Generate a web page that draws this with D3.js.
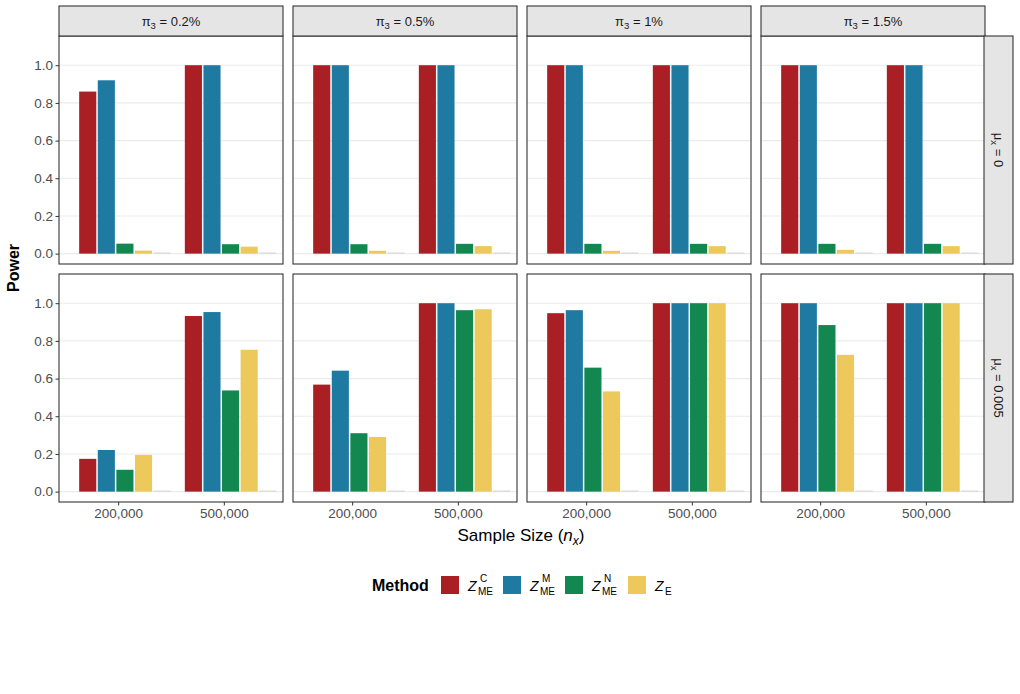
<!DOCTYPE html>
<html>
<head>
<meta charset="utf-8">
<script src="https://cdn.jsdelivr.net/npm/d3@7"></script>
<style>
  body { margin: 0; background: #fff; }
  svg { font-family: "Liberation Sans", Arial, sans-serif; }
</style>
</head>
<body>
<div id="chart_wrapper"></div>
<script>
// facet labels and categories
var colLabels = ["0.2%", "0.5%", "1%", "1.5%"];
var rowLabels = ["0", "0.005"];
var sampleSizes = ["200,000", "500,000"];
var methods = ["C", "M", "N", "E", "other"];
var yTicks = [0, 0.2, 0.4, 0.6, 0.8, 1.0];

// power values: row mu=0 then mu=0.005; inside a row the panels pi3 = 0.2% .. 1.5%; inside a panel 200,000 then 500,000
var zmeC  = [0.86, 1.00, 1.00, 1.00, 1.00, 1.00, 1.00, 1.00,  0.174, 0.932, 0.568, 1.00, 0.947, 1.00, 1.00, 1.00];
var zmeM  = [0.92, 1.00, 1.00, 1.00, 1.00, 1.00, 1.00, 1.00,  0.221, 0.953, 0.642, 1.00, 0.963, 1.00, 1.00, 1.00];
var zmeN  = [0.053, 0.050, 0.050, 0.052, 0.052, 0.052, 0.052, 0.052,  0.116, 0.537, 0.310, 0.963, 0.658, 1.00, 0.884, 1.00];
var zE    = [0.016, 0.037, 0.015, 0.040, 0.015, 0.040, 0.020, 0.040,  0.195, 0.753, 0.290, 0.968, 0.532, 1.00, 0.726, 1.00];
var zNone = [0.006, 0.006, 0.006, 0.006, 0.006, 0.006, 0.006, 0.006,  0.006, 0.006, 0.006, 0.006, 0.006, 0.006, 0.006, 0.006];

var seriesByMethod = { C: zmeC, M: zmeM, N: zmeN, E: zE, other: zNone };
var myColor = d3.scaleOrdinal().domain(methods).range(["#AA1F24", "#1F7AA1", "#138750", "#EDC95B", "#d6d6d6"]);

var svg = d3.select("#chart_wrapper").append("svg").attr("width", 1020).attr("height", 694);

var panelW = 224, panelH = 228, gapX = 10;
var left0 = 59;
var rowTops = [36, 274];
var stripTop = 6;

var y = d3.scaleLinear().domain([-0.055, 1.155]).range([panelH, 0]);
var x = d3.scalePoint().domain(sampleSizes).range([0, panelW]).padding(0.56);
var xm = d3.scaleBand().domain(methods).range([-39, 52.5]).paddingInner(0.08);

// flatten into records
var data = [];
rowLabels.forEach(function(r, ri) {
    colLabels.forEach(function(c, ci) {
        sampleSizes.forEach(function(s, si) {
            var idx = ri * 8 + ci * 2 + si;
            methods.forEach(function(m) {
                data.push({ row: ri, col: ci, size: s, method: m, value: seriesByMethod[m][idx] });
            });
        });
    });
});

rowLabels.forEach(function(r, ri) {
    colLabels.forEach(function(c, ci) {
        var g = svg.append("g").attr("transform", "translate(" + (left0 + ci * (panelW + gapX)) + "," + rowTops[ri] + ")");

        // grid
        g.selectAll(".grid").data(yTicks).enter().append("line")
            .attr("x1", 0).attr("x2", panelW)
            .attr("y1", function(d) { return y(d); }).attr("y2", function(d) { return y(d); })
            .attr("stroke", "#ebebeb").attr("stroke-width", 1.1);

        // bars
        g.selectAll(".bar").data(data.filter(function(d) { return d.row == ri && d.col == ci; }))
            .enter().append("rect")
            .attr("x", function(d) { return x(d.size) + xm(d.method); })
            .attr("width", xm.bandwidth())
            .attr("y", function(d) { return y(d.value); })
            .attr("height", function(d) { return y(0) - y(d.value); })
            .attr("fill", function(d) { return myColor(d.method); });

        g.append("rect").attr("width", panelW).attr("height", panelH)
            .attr("fill", "none").attr("stroke", "#333").attr("stroke-width", 1.1);

        if (ci == 0) {
            var ya = g.append("g").call(d3.axisLeft(y).tickValues(yTicks).tickSize(3.5).tickFormat(d3.format(".1f")));
            ya.select(".domain").remove();
            ya.selectAll("line").attr("stroke", "#333");
            ya.selectAll("text").attr("fill", "#4d4d4d").style("font-size", "13.5px").attr("x", -6);
        }
        if (ri == 1) {
            var xa = g.append("g").attr("transform", "translate(0," + panelH + ")")
                .call(d3.axisBottom(x).tickSize(3.5));
            xa.select(".domain").remove();
            xa.selectAll("line").attr("stroke", "#333");
            xa.selectAll("text").attr("fill", "#4d4d4d").style("font-size", "13.5px").attr("y", 6.5);
        }
        if (ri == 0) {
            var sg = svg.append("g").attr("transform", "translate(" + (left0 + ci * (panelW + gapX)) + "," + stripTop + ")");
            sg.append("rect").attr("width", panelW).attr("height", rowTops[0] - stripTop)
                .attr("fill", "#e5e5e5").attr("stroke", "#333").attr("stroke-width", 1.1);
            var st = sg.append("text").attr("x", panelW / 2).attr("y", 20).attr("text-anchor", "middle")
                .style("font-size", "13px").attr("fill", "#1a1a1a");
            st.append("tspan").text("\u03c0");
            st.append("tspan").text("3").style("font-size", "9.5px").attr("dy", 3);
            st.append("tspan").text(" = " + c).attr("dy", -3);
        }
        if (ci == colLabels.length - 1) {
            var rx = left0 + 4 * panelW + 3 * gapX - 1;
            var rg = svg.append("g").attr("transform", "translate(" + rx + "," + rowTops[ri] + ")");
            rg.append("rect").attr("width", 29).attr("height", panelH)
                .attr("fill", "#e5e5e5").attr("stroke", "#333").attr("stroke-width", 1.1);
            var rt = rg.append("text").attr("transform", "translate(10," + (panelH / 2) + ") rotate(90)")
                .attr("text-anchor", "middle").style("font-size", "13px").attr("fill", "#1a1a1a");
            rt.append("tspan").text("\u03bc");
            rt.append("tspan").text("x").style("font-size", "9.5px").attr("dy", 3);
            rt.append("tspan").text(" = " + r).attr("dy", -3);
        }
    });
});

// axis titles
svg.append("text").attr("transform", "translate(19,268) rotate(-90)").attr("text-anchor", "middle")
    .style("font-size", "16px").style("font-weight", "bold").text("Power");

var xt = svg.append("text").attr("x", 521).attr("y", 541).attr("text-anchor", "middle").style("font-size", "17px");
xt.append("tspan").text("Sample Size (");
xt.append("tspan").text("n").style("font-style", "italic");
xt.append("tspan").text("x").style("font-style", "italic").style("font-size", "12px").attr("dy", 4);
xt.append("tspan").text(")").attr("dy", -4);

// legend
var legend = svg.append("g");
legend.append("text").attr("x", 372).attr("y", 591).style("font-size", "16px").style("font-weight", "bold").text("Method");
var legendItems = [
    { m: "C", x: 441, sup: "C", sub: "ME" },
    { m: "M", x: 503, sup: "M", sub: "ME" },
    { m: "N", x: 565, sup: "N", sub: "ME" },
    { m: "E", x: 628, sup: "", sub: "E" }
];
legendItems.forEach(function(it) {
    legend.append("rect").attr("x", it.x).attr("y", 576).attr("width", 18).attr("height", 18).attr("fill", myColor(it.m));
    var tx = it.x + 27;
    legend.append("text").attr("x", tx).attr("y", 590.5).style("font-size", "14px").style("font-style", "italic").text("Z");
    if (it.sup) legend.append("text").attr("x", tx + 12).attr("y", 582).style("font-size", "10px").text(it.sup);
    legend.append("text").attr("x", tx + 10).attr("y", 595).style("font-size", "10px").text(it.sub);
});
</script>
</body>
</html>
